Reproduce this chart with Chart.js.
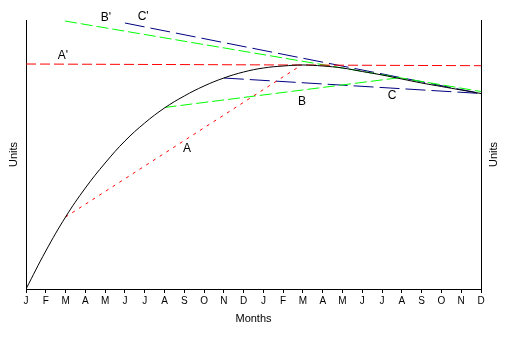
<!DOCTYPE html>
<html>
<head>
<meta charset="utf-8">
<script src="https://cdn.jsdelivr.net/npm/chart.js@4"></script>
<style>
html,body{margin:0;padding:0;background:#fff;}
#wrap{width:506px;height:340px;}
</style>
</head>
<body>
<div id="wrap"><canvas id="c" width="506" height="340"></canvas></div>
<script>
// ---- data (x = month index 0..23, y = units) ----
const monthTicks = ["J","F","M","A","M","J","J","A","S","O","N","D","J","F","M","A","M","J","J","A","S","O","N","D"];
const curveUnits = [0,38,72,101,126,148,166,181,193,203,211,217,221,223,224,223,221,217.5,214,210,206,202.5,199,195.5];

const lineA_X = [2, 13.85];      const lineA_Y = [72, 223];
const lineA2_X = [0, 23];        const lineA2_Y = [225, 223.3];
const lineB_X = [7, 18.76];      const lineB_Y = [181.5, 211];
const lineB2_X = [1.97, 23];     const lineB2_Y = [268, 197.5];
const lineC_X = [10, 23];        const lineC_Y = [211, 195.5];
const lineC2_X = [5, 23];        const lineC2_Y = [266, 195.5];

const labelNames = ["A'","B'","C'","A","B","C"];
const labelX = [1.87, 4.04, 5.92, 8.14, 13.95, 18.5];
const labelY = [233, 271, 272, 140, 187, 193];

const xTitle = "Months";
const yTitle = "Units";

// ---- build ----
const pts = (xs, ys) => xs.map((x, i) => ({x: x, y: ys[i]}));
const FONT = "'Liberation Sans', Arial, Helvetica, sans-serif";

function seg(data, color, dash) {
  return {data: data, borderColor: color, borderWidth: 1, borderDash: dash,
          pointRadius: 0, fill: false, tension: 0};
}

const labelPlugin = {
  id: 'labels',
  afterDatasetsDraw(chart) {
    const ctx = chart.ctx, xs = chart.scales.x, ys = chart.scales.y;
    ctx.save();
    ctx.fillStyle = '#000';
    ctx.font = '12px ' + FONT;
    ctx.textAlign = 'center';
    ctx.textBaseline = 'middle';
    labelNames.forEach((t, i) => {
      ctx.fillText(t, xs.getPixelForValue(labelX[i]), ys.getPixelForValue(labelY[i]));
    });
    // right axis title (reads bottom to top like the left one)
    const r = chart.scales.y2;
    ctx.font = '11px ' + FONT;
    ctx.translate(r.right - 12, (r.top + r.bottom) / 2);
    ctx.rotate(-Math.PI / 2);
    ctx.fillText(yTitle, 0, 0);
    ctx.restore();
  }
};

new Chart(document.getElementById('c'), {
  type: 'line',
  data: {
    datasets: [
      {data: curveUnits.map((v, i) => ({x: i, y: v})), borderColor: '#000', borderWidth: 1,
       pointRadius: 0, fill: false, tension: 0.4},
      seg(pts(lineA_X, lineA_Y), '#ff0000', [3, 5]),
      seg(pts(lineA2_X, lineA2_Y), '#ff0000', [10, 4]),
      seg(pts(lineB_X, lineB_Y), '#00ff00', [12, 4]),
      seg(pts(lineB2_X, lineB2_Y), '#00ff00', [12, 4]),
      seg(pts(lineC_X, lineC_Y), '#000080', [20, 6]),
      seg(pts(lineC2_X, lineC2_Y), '#000080', [20, 6])
    ]
  },
  options: {
    responsive: false,
    animation: false,
    devicePixelRatio: 1,
    layout: {padding: {top: 20, left: 0, right: 0, bottom: 0}},
    plugins: {legend: {display: false}, tooltip: {enabled: false}},
    scales: {
      x: {
        type: 'linear', min: 0, max: 23,
        afterFit: s => { s.height = 51; },
        border: {display: true, color: '#000', width: 1},
        grid: {display: true, drawOnChartArea: false, drawTicks: true, tickLength: 4, tickColor: '#000'},
        ticks: {stepSize: 1, autoSkip: false, maxRotation: 0, padding: 2, color: '#000',
                font: {family: FONT, size: 10},
                callback: v => monthTicks[v]},
        title: {display: true, text: xTitle, color: '#000', font: {family: FONT, size: 11},
                padding: {top: 0, bottom: 14}}
      },
      y: {
        type: 'linear', position: 'left', min: 0, max: 269,
        afterFit: s => { s.width = 26; },
        border: {display: true, color: '#000', width: 1},
        grid: {display: false, drawOnChartArea: false, drawTicks: false},
        ticks: {display: false},
        title: {display: true, text: yTitle, color: '#000', font: {family: FONT, size: 11},
                padding: {top: 7, bottom: 0}}
      },
      y2: {
        type: 'linear', position: 'right', min: 0, max: 269,
        afterFit: s => { s.width = 25; },
        border: {display: true, color: '#000', width: 1},
        grid: {display: false, drawOnChartArea: false, drawTicks: false},
        ticks: {display: false}
      }
    }
  },
  plugins: [labelPlugin]
});
</script>
</body>
</html>
